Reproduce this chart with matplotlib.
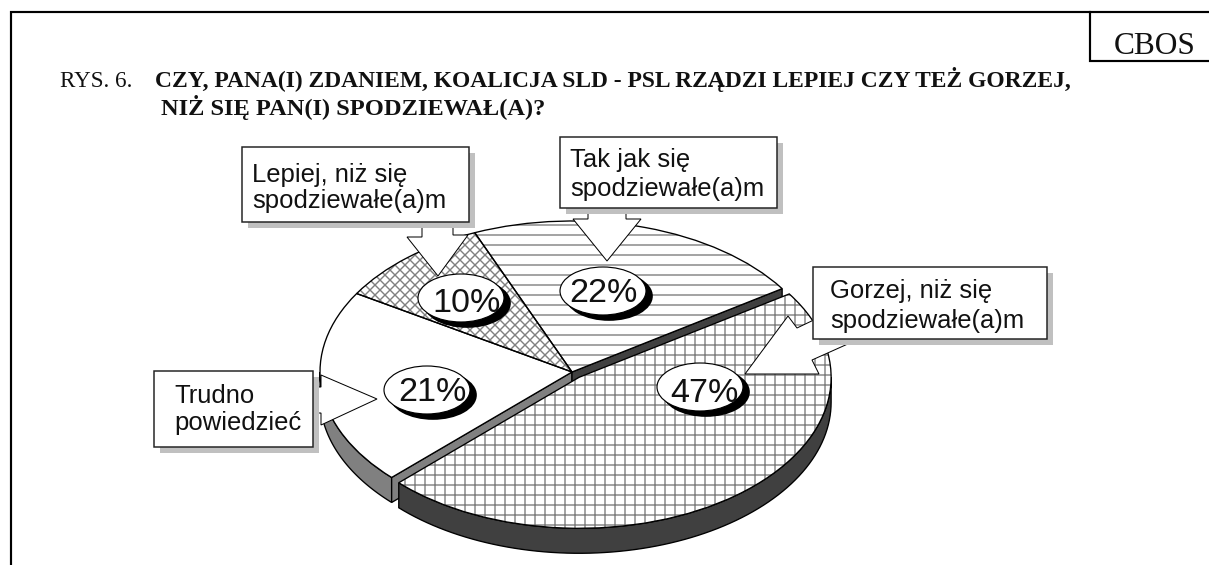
import numpy as np
from matplotlib import pyplot as plt
from matplotlib.patches import Ellipse, Polygon, Rectangle

W, H = 1209, 565

shares = [22, 10, 21, 47]
percent_labels = ['22%', '10%', '21%', '47%']
hatches = ['--', 'xxxx', None, '++']
category_labels = ['Tak jak się\nspodziewałe(a)m', 'Lepiej, niż się\nspodziewałe(a)m',
                   'Trudno\npowiedzieć', 'Gorzej, niż się\nspodziewałe(a)m']
title_lines = ['CZY, PANA(I) ZDANIEM, KOALICJA SLD - PSL RZĄDZI LEPIEJ CZY TEŻ GORZEJ,',
               'NIŻ SIĘ PAN(I) SPODZIEWAŁ(A)?']

plt.rcParams['hatch.linewidth'] = 0.85
SANS = 'Liberation Sans'
SERIF = 'Liberation Serif'

fig = plt.figure(figsize=(W / 120, H / 120), dpi=120, facecolor='white')

# pie axes: one data unit is 252 px across and 150 px down, gives the tilted look
cx, cy, rx, ry = 572, 372, 252, 151
pie_ax = fig.add_axes([(cx - 1.4 * rx) / W, 1 - (cy + 1.8 * ry) / H, 2.8 * rx / W, 3.6 * ry / H])
explode = [0, 0, 0, 0.045]
fills, _ = pie_ax.pie(shares, startangle=33.5, counterclock=True, explode=explode,
                      wedgeprops={'facecolor': 'white', 'linewidth': 0})
lines, _ = pie_ax.pie(shares, startangle=33.5, counterclock=True, explode=explode,
                      wedgeprops={'fill': False, 'edgecolor': 'black', 'linewidth': 0.8})
pie_ax.set_aspect('auto')
pie_ax.set_xlim(-1.4, 1.4)
pie_ax.set_ylim(-1.8, 1.8)
pie_ax.axis('off')

for i, w in enumerate(fills):
    z = 4 if i == 3 else 2
    w.set_zorder(z)
    lines[i].set_zorder(z + 0.5)
    if hatches[i]:
        w.set_hatch(hatches[i])
        w.set_edgecolor('#808080')

depth = 25 / ry


def rim(wedge, t1, t2, color, z):
    t = np.radians(np.linspace(t1, t2, 80))
    x = wedge.center[0] + wedge.r * np.cos(t)
    y = wedge.center[1] + wedge.r * np.sin(t)
    pts = np.r_[np.c_[x, y], np.c_[x, y - depth][::-1]]
    pie_ax.add_patch(Polygon(pts, facecolor=color, edgecolor='black', linewidth=0.8, zorder=z))


def cut(wedge, t, color, z):
    a = np.radians(t)
    c = np.array(wedge.center)
    e = c + wedge.r * np.array([np.cos(a), np.sin(a)])
    d = np.array([0, depth])
    pie_ax.add_patch(Polygon([c, e, e - d, c - d], facecolor=color, edgecolor='black',
                             linewidth=0.8, zorder=z))


rim(fills[2], 180, fills[2].theta2, '#808080', 1)
cut(fills[2], fills[2].theta2, '#808080', 1)
cut(fills[0], fills[0].theta1, '#404040', 1)
rim(fills[3], fills[3].theta1, 360, '#404040', 3)

# everything else sits on a pixel axes on top
ax = fig.add_axes([0, 0, 1, 1])
ax.set_xlim(0, W)
ax.set_ylim(H, 0)
ax.axis('off')

ax.plot([11, 11, W], [H, 12, 12], color='black', lw=1.3, solid_joinstyle='miter')
ax.plot([1090, 1090, W], [12, 61, 61], color='black', lw=1.3, solid_joinstyle='miter')
ax.text(1114, 54, 'CBOS', family=SERIF, fontsize=18.8, color='#111111')

ax.text(60, 87, 'RYS. 6.', family=SERIF, fontsize=13.9, color='#111111')
ax.text(155, 87, title_lines[0], family=SERIF, fontsize=14.1, fontweight='bold', color='#111111')
ax.text(161, 115, title_lines[1], family=SERIF, fontsize=14.6, fontweight='bold', color='#111111')

arrows = [
    [(588, 205), (588, 219), (573, 219), (607, 261), (641, 219), (626, 219), (626, 205)],
    [(422, 218), (422, 237), (407, 237), (438, 276), (468, 235), (453, 235), (453, 218)],
    [(310, 387), (321, 387), (321, 375), (377, 399), (321, 425), (321, 413), (310, 413)],
    [(820, 317), (797, 328), (788, 316), (745, 374), (819, 374), (812, 360), (850, 343)],
]
boxes = [(560, 137, 217, 71), (242, 147, 227, 75), (154, 371, 159, 76), (813, 267, 234, 72)]
label_pos = [(570, 167), (252, 182), (174, 403), (830, 298)]
label_gap = [29, 26, 27, 30]
ovals = [(603, 291), (461, 298), (427, 390), (700, 387)]
pct_pos = [(603, 302), (467, 312), (432, 401), (704, 402)]

for i in range(4):
    ax.add_patch(Polygon(arrows[i], facecolor='white', edgecolor='black', linewidth=0.6, zorder=5))
    x, y, w, h = boxes[i]
    ax.add_patch(Rectangle((x + 6, y + 6), w, h, facecolor='#c0c0c0', edgecolor='none', zorder=6))
    ax.add_patch(Rectangle((x, y), w, h, facecolor='white', edgecolor='#222222', linewidth=0.9, zorder=7))
    first, second = category_labels[i].split('\n')
    lx, ly = label_pos[i]
    ax.text(lx, ly, first, family=SANS, fontsize=15.4, color='#111111', zorder=8)
    ax.text(lx, ly + label_gap[i], second, family=SANS, fontsize=15.4, color='#111111', zorder=8)

    ox, oy = ovals[i]
    ax.add_patch(Ellipse((ox + 6, oy + 5), 86, 48, facecolor='black', edgecolor='black', zorder=5.5))
    ax.add_patch(Ellipse((ox, oy), 86, 48, facecolor='white', edgecolor='black', linewidth=0.7, zorder=5.6))
    ax.text(pct_pos[i][0], pct_pos[i][1], percent_labels[i], family=SANS, fontsize=20.5, color='#111111',
            ha='center', va='baseline', zorder=8)

fig.savefig('out.png', dpi=120)
